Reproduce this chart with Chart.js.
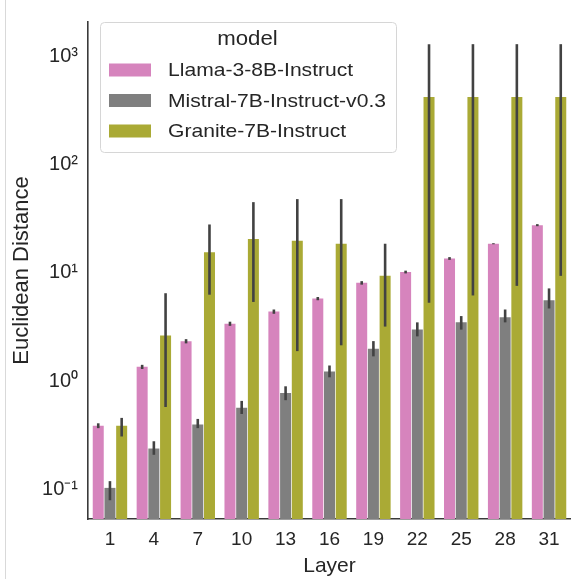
<!DOCTYPE html>
<html>
<head>
<meta charset="utf-8">
<script src="https://cdn.jsdelivr.net/npm/chart.js@4"></script>
<style>
  html, body { margin: 0; padding: 0; background: #fff; }
  #wrap { position: relative; width: 571px; height: 579px; }
  #edge { position: absolute; left: 5px; top: 0; width: 1px; height: 579px; background: #d9d9d9; }
</style>
</head>
<body>
<div id="wrap">
  <canvas id="chart" width="571" height="579"></canvas>
  <div id="edge"></div>
</div>
<script>
const layers = ['1', '4', '7', '10', '13', '16', '19', '22', '25', '28', '31'];
const modelNames = ['Llama-3-8B-Instruct', 'Mistral-7B-Instruct-v0.3', 'Granite-7B-Instruct'];

const llama = [0.39, 1.36, 2.34, 3.4, 4.4, 5.8, 8.1, 10.2, 13.6, 18.6, 27.6];
const llamaLo = [0.37, 1.30, 2.24, 3.25, 4.2, 5.6, 7.8, 9.9, 13.2, 18.4, 27.0];
const llamaHi = [0.41, 1.42, 2.45, 3.55, 4.6, 6.0, 8.4, 10.5, 14.0, 18.8, 28.2];

const mistral = [0.104, 0.24, 0.40, 0.57, 0.78, 1.23, 2.0, 3.0, 3.5, 3.9, 5.6];
const mistralLo = [0.08, 0.21, 0.37, 0.50, 0.67, 1.09, 1.7, 2.6, 3.0, 3.5, 4.7];
const mistralHi = [0.12, 0.28, 0.45, 0.66, 0.90, 1.4, 2.35, 3.5, 4.0, 4.6, 7.2];

const granite = [0.39, 2.65, 15.5, 20.6, 19.8, 18.6, 9.4, 420, 420, 420, 420];
const graniteLo = [0.31, 0.58, 6.3, 5.4, 1.9, 2.15, 3.2, 5.3, 6.2, 7.6, 9.4];
const graniteHi = [0.46, 6.5, 28, 45, 48, 48, 18.6, 1290, 1290, 1290, 1290];

const yTicks = [0.1, 1, 10, 100, 1000];
const yTickLabels = ['10\u207B\u00B9', '10\u2070', '10\u00B9', '10\u00B2', '10\u00B3'];

const colors = ['#d684bd', '#7f7f7f', '#aaaa35'];
const errLo = [llamaLo, mistralLo, graniteLo];
const errHi = [llamaHi, mistralHi, graniteHi];
const FONT = '"Liberation Sans", Arial, sans-serif';
const TEXT = '#262626';

// error bars drawn from the data through the y scale
const errorBars = {
    id: 'errorBars',
    afterDatasetsDraw(chart) {
        const ctx = chart.ctx;
        const y = chart.scales.y;
        ctx.save();
        ctx.strokeStyle = '#424242';
        ctx.lineWidth = 2.6;
        chart.data.datasets.forEach((ds, i) => {
            chart.getDatasetMeta(i).data.forEach((bar, j) => {
                ctx.beginPath();
                ctx.moveTo(bar.x, y.getPixelForValue(errLo[i][j]));
                ctx.lineTo(bar.x, y.getPixelForValue(errHi[i][j]));
                ctx.stroke();
            });
        });
        ctx.restore();
    }
};

// text drawn a little wider, like the reference's legend
function wideText(ctx, txt, x, y, sx) {
    ctx.save();
    ctx.translate(x, y);
    ctx.scale(sx, 1);
    ctx.fillText(txt, 0, 0);
    ctx.restore();
}

// seaborn-like legend box inside the axes
const boxLegend = {
    id: 'boxLegend',
    afterDraw(chart) {
        const ctx = chart.ctx;
        const x0 = 100, y0 = 22, w = 296, h = 130, r = 4;
        ctx.save();
        ctx.fillStyle = 'rgba(255,255,255,0.85)';
        ctx.strokeStyle = '#d6d6d6';
        ctx.lineWidth = 1;
        ctx.beginPath();
        ctx.roundRect(x0 + 0.5, y0 + 0.5, w, h, r);
        ctx.fill();
        ctx.stroke();
        ctx.fillStyle = TEXT;
        ctx.textBaseline = 'middle';
        ctx.textAlign = 'center';
        ctx.font = '19.5px ' + FONT;
        wideText(ctx, 'model', 247.5, 40, 1.14);
        ctx.textAlign = 'left';
        ctx.font = '18.5px ' + FONT;
        chart.data.datasets.forEach((ds, i) => {
            const cy = 70 + i * 30.5;
            ctx.fillStyle = ds.backgroundColor;
            ctx.fillRect(109, cy - 6.5, 42, 13);
            ctx.fillStyle = TEXT;
            wideText(ctx, ds.label, 168, cy + 1, 1.14);
        });
        ctx.restore();
    }
};

new Chart(document.getElementById('chart'), {
    type: 'bar',
    data: {
        labels: layers,
        datasets: [
            { label: modelNames[0], data: llama, backgroundColor: colors[0] },
            { label: modelNames[1], data: mistral, backgroundColor: colors[1] },
            { label: modelNames[2], data: granite, backgroundColor: colors[2] }
        ]
    },
    options: {
        responsive: false,
        animation: false,
        layout: { padding: { top: 10, right: 0, left: 0, bottom: 0 } },
        datasets: { bar: { categoryPercentage: 0.8, barPercentage: 0.94 } },
        plugins: {
            legend: { display: false },
            tooltip: { enabled: false }
        },
        scales: {
            x: {
                grid: { display: false, drawTicks: false },
                border: { color: '#3a3a3a', width: 1.6 },
                ticks: { color: TEXT, font: { family: FONT, size: 19 }, padding: 9 },
                title: { display: true, text: 'Layer', color: TEXT, font: { family: FONT, size: 21 }, padding: { top: 1, bottom: 0 } },
                afterFit(scale) { scale.height = 60; }
            },
            y: {
                type: 'logarithmic',
                min: 0.0537,
                max: 2066,
                grid: { display: false, drawTicks: false },
                border: { color: '#3a3a3a', width: 1.6 },
                afterBuildTicks(scale) {
                    scale.ticks = yTicks.map(v => ({ value: v }));
                },
                ticks: {
                    color: TEXT,
                    font: { family: FONT, size: 20 },
                    padding: 10,
                    callback: function (value) {
                        const k = yTicks.indexOf(value);
                        return k >= 0 ? yTickLabels[k] : '';
                    }
                },
                title: { display: true, text: 'Euclidean Distance', color: TEXT, font: { family: FONT, size: 22 }, padding: { top: 9, bottom: 0 } },
                afterFit(scale) { scale.width = 88; }
            }
        }
    },
    plugins: [errorBars, boxLegend]
});
</script>
</body>
</html>
